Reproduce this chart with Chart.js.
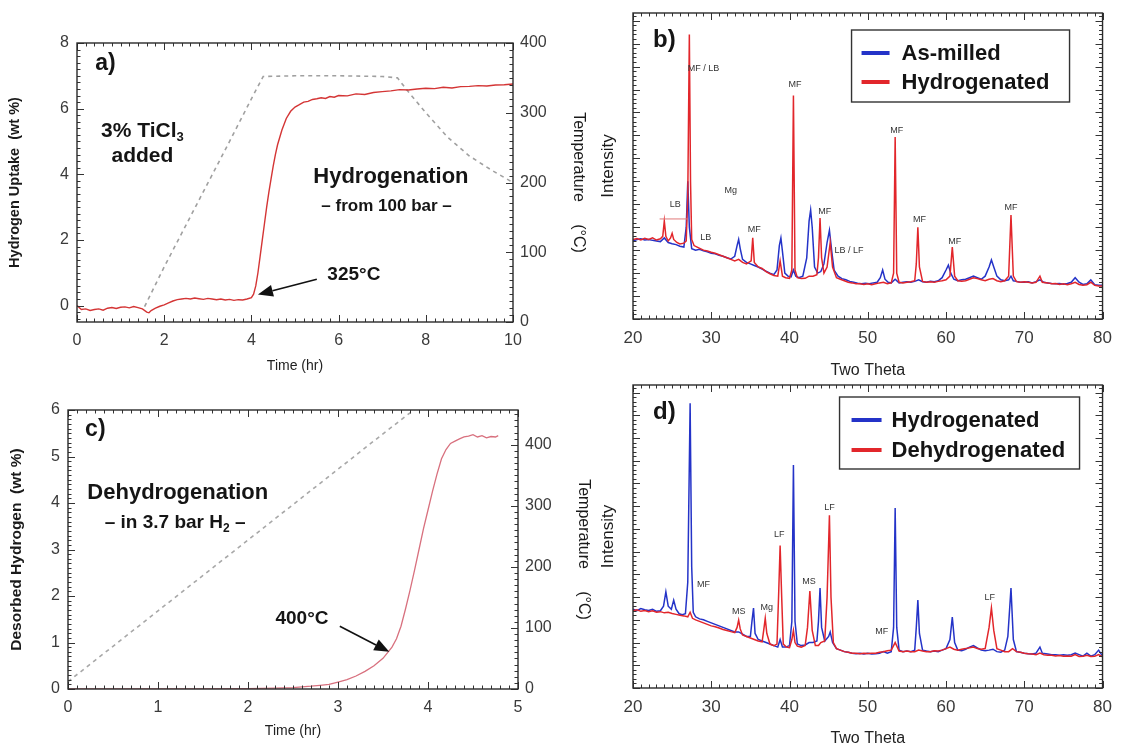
<!DOCTYPE html>
<html><head><meta charset="utf-8">
<script src="https://cdn.jsdelivr.net/npm/chart.js@4.4.1/dist/chart.umd.min.js"></script>
<style>
html,body{margin:0;padding:0;background:#fff;}
#wrap{position:relative;width:1121px;height:749px;overflow:hidden;background:#fff;}
canvas{position:absolute;left:0;top:0;}
</style></head><body>
<div id="wrap">
<canvas id="ca" width="1121" height="749"></canvas>
<canvas id="cb" width="1121" height="749"></canvas>
<canvas id="cc" width="1121" height="749"></canvas>
<canvas id="cd" width="1121" height="749"></canvas>
</div>
<script>
// ---------------- DATA ----------------
const aTimeTicks = [0, 2, 4, 6, 8, 10];
const aUptakeTicks = [0, 2, 4, 6, 8];
const aTempTicks = [0, 100, 200, 300, 400];
const aUptake = [[0,0.0],[0.1,-0.12],[0.2,-0.1],[0.3,-0.15],[0.4,-0.12],[0.5,-0.1],[0.6,-0.14],[0.7,-0.08],[0.8,-0.06],[0.9,-0.09],[1.0,-0.05],[1.1,-0.04],[1.2,-0.07],[1.3,-0.03],[1.4,-0.06],[1.5,-0.1],[1.6,-0.2],[1.65,-0.22],[1.7,-0.15],[1.8,-0.08],[1.9,-0.02],[2.0,0.02],[2.1,0.08],[2.2,0.14],[2.3,0.18],[2.4,0.2],[2.5,0.22],[2.6,0.2],[2.7,0.23],[2.8,0.21],[2.9,0.19],[3.0,0.22],[3.1,0.2],[3.2,0.18],[3.3,0.2],[3.4,0.17],[3.5,0.19],[3.6,0.16],[3.7,0.18],[3.8,0.17],[3.9,0.2],[4.0,0.24],[4.05,0.35],[4.1,0.6],[4.15,1.0],[4.2,1.5],[4.25,2.0],[4.3,2.5],[4.35,3.0],[4.4,3.45],[4.45,3.85],[4.5,4.25],[4.55,4.6],[4.6,4.9],[4.7,5.35],[4.8,5.7],[4.9,5.92],[5.0,6.05],[5.1,6.12],[5.2,6.2],[5.3,6.22],[5.4,6.28],[5.5,6.3],[5.6,6.33],[5.7,6.31],[5.8,6.37],[5.9,6.35],[6.0,6.4],[6.2,6.39],[6.4,6.45],[6.6,6.43],[6.8,6.49],[7.0,6.52],[7.2,6.54],[7.4,6.58],[7.6,6.57],[7.8,6.6],[8.0,6.62],[8.2,6.61],[8.4,6.65],[8.6,6.63],[8.8,6.67],[9.0,6.68],[9.2,6.7],[9.4,6.69],[9.6,6.72],[9.8,6.73],[10,6.75]];
const aTemp = [[1.55,22],[2.0,79],[2.5,139],[3.0,199],[3.5,259],[4.0,320],[4.27,352],[5.0,353],[6.0,353],[7.0,352],[7.35,350],[7.6,330],[8.0,300],[8.5,265],[9.0,238],[9.5,218],[10,200]];

const cTimeTicks = [0, 1, 2, 3, 4, 5];
const cDesorbTicks = [0, 1, 2, 3, 4, 5, 6];
const cTempTicks = [0, 100, 200, 300, 400];
const cDesorbed = [[0,0],[0.5,0],[1,0],[1.5,0],[2,0.01],[2.3,0.02],[2.5,0.03],[2.7,0.06],[2.8,0.08],[2.9,0.1],[3.0,0.15],[3.1,0.2],[3.2,0.28],[3.3,0.38],[3.4,0.5],[3.5,0.66],[3.6,0.9],[3.65,1.08],[3.7,1.35],[3.75,1.72],[3.8,2.12],[3.85,2.55],[3.9,3.0],[3.95,3.45],[4.0,3.85],[4.05,4.25],[4.1,4.62],[4.15,4.95],[4.2,5.15],[4.25,5.28],[4.3,5.33],[4.35,5.38],[4.4,5.42],[4.45,5.44],[4.5,5.47],[4.55,5.42],[4.6,5.45],[4.65,5.4],[4.7,5.43],[4.75,5.42],[4.78,5.45]];
const cTemp = [[0,12],[0.5,70],[1,128],[1.5,186],[2,244],[2.5,302],[3,360],[3.5,418],[3.85,458]];

const xrdTicks = [20, 30, 40, 50, 60, 70, 80];
const bAsMilled = [[20,25.5],[20.5,26],[21,26.2],[21.5,25.8],[22,26],[22.5,25.7],[23,25.5],[23.5,25.3],[24,26.5],[24.5,25],[25,24.6],[25.5,24.3],[26,23.8],[26.5,23.5],[26.8,30],[27.0,45],[27.2,30],[27.5,23],[28,22.5],[28.5,22.8],[29,22.3],[29.5,22],[30,21.5],[30.5,21.3],[31,20.8],[31.5,20.5],[32,20],[32.5,19.6],[33,20.5],[33.3,24],[33.5,26],[33.7,23],[34,19.5],[34.5,18.5],[35,18],[35.5,17.5],[36,17],[36.5,16.3],[37,15.6],[37.5,15],[38,14.5],[38.4,16],[38.7,24],[38.9,26.5],[39.1,22],[39.4,15],[39.8,14],[40.2,13.8],[40.5,16],[40.8,14],[41.2,13.5],[41.7,14],[42.2,20],[42.5,32],[42.7,35.6],[42.9,30],[43.2,17],[43.6,15],[44,15.5],[44.4,18],[44.8,25],[45.1,29],[45.4,22],[45.7,16],[46.2,14],[46.7,13.2],[47.2,12.8],[47.7,12.3],[48.2,12],[48.7,11.7],[49.2,11.5],[49.7,11.7],[50.2,11.5],[50.7,11.8],[51.2,12],[51.6,13.5],[51.9,16],[52.2,13],[52.6,12],[53,11.8],[53.5,13],[54,11.8],[54.5,12],[55,12.2],[55.5,12],[56,12.3],[56.5,12.8],[57,12.2],[57.5,12],[58,12.3],[58.5,12.2],[59,12.5],[59.5,13.5],[60,16],[60.3,17.6],[60.6,15],[61,13],[61.5,12.5],[62,12.8],[62.5,13],[63,13.5],[63.5,14],[64,13.5],[64.5,13],[65,14],[65.5,17],[65.8,19.3],[66.1,17],[66.5,14],[67,12.8],[67.5,12.5],[68,12.8],[68.3,14],[68.6,12.5],[69,12.3],[69.5,12],[70,12],[70.5,12.2],[71,11.8],[71.5,12.2],[72,12.8],[72.5,12],[73,11.8],[73.5,11.6],[74,11.5],[74.5,11.6],[75,11.4],[75.5,11.6],[76,12],[76.5,13.5],[77,12],[77.5,11.3],[78,11.5],[78.5,12.8],[79,11.2],[79.5,11],[80,11]];
const bHydrogenated = [[20,26],[20.5,26.3],[21,25.8],[21.5,26.4],[22,26],[22.5,26.5],[23,25.8],[23.5,26.2],[23.8,27],[24.0,32],[24.2,27],[24.5,25.5],[24.8,26.5],[25.0,28],[25.2,26],[25.6,25],[26,24.5],[26.5,24.8],[26.8,25.5],[27.0,40],[27.2,93],[27.35,45],[27.5,26],[27.8,24],[28.2,23.5],[28.6,23],[29,22.5],[29.5,22.2],[30,21.8],[30.5,21.5],[31,21],[31.5,20.5],[32,20],[32.5,19.5],[33,19],[33.5,19.5],[34,18.5],[34.5,18],[35.1,19],[35.3,26.5],[35.5,18.5],[36,17],[36.5,16.5],[37,15.5],[37.5,14.8],[38,14.2],[38.5,14],[38.8,19],[39.1,14],[39.5,13.5],[40,13.3],[40.3,16],[40.5,73],[40.7,16],[41,13.5],[41.5,13.2],[42,13.3],[42.5,14],[43,14],[43.5,14.5],[43.7,20],[43.9,33],[44.1,20],[44.4,15],[44.8,17],[45.2,25],[45.5,17],[46,13.5],[46.5,13],[47,12.5],[47.5,12],[48,11.8],[48.5,11.5],[49,11.5],[49.5,11.3],[50,11.5],[50.5,11.2],[51,11.5],[51.5,11.8],[52,12],[52.5,11.5],[53,11.8],[53.3,15],[53.5,59.5],[53.7,15],[54,12],[54.5,11.8],[55,12],[55.5,12.2],[56,12.5],[56.2,18],[56.4,30],[56.6,17],[57,12.3],[57.5,12],[58,12.2],[58.5,12],[59,12.3],[59.5,12.5],[60,12.8],[60.5,14],[60.8,23.5],[61.1,14],[61.5,12.5],[62,12.3],[62.5,12.5],[63,13],[63.5,13.5],[64,13.2],[64.5,12.8],[65,12.5],[65.5,13],[66,13.2],[66.5,12.5],[67,12.2],[67.5,12.5],[68,14],[68.3,34],[68.6,14],[69,12.2],[69.5,12],[70,12.2],[70.5,12],[71,11.8],[71.5,12],[72,14],[72.3,12],[73,11.8],[73.5,11.5],[74,11.6],[74.5,11.3],[75,11.5],[75.5,11.2],[76,11.5],[76.5,12],[77,11.3],[77.5,11],[78,11.2],[78.5,12],[79,11],[79.5,10.8],[80,10.8]];
const dHydrogenated = [[20,26],[20.5,25.5],[21,26.2],[21.5,25.8],[22,25.6],[22.5,26],[23,25.3],[23.5,25.5],[23.9,27],[24.2,31.7],[24.5,27],[24.9,26],[25.2,29],[25.5,26],[25.9,24.5],[26.3,24.2],[26.7,24.5],[27.0,35],[27.3,94],[27.5,40],[27.7,25],[28,23.5],[28.5,22.8],[29,22.5],[29.5,22],[30,21.5],[30.5,21],[31,20.5],[31.5,20],[32,19.5],[32.5,19],[33,18.5],[33.5,18.5],[34,17.8],[34.5,17],[35,17],[35.2,22],[35.4,26.4],[35.6,18],[36,16],[36.5,15.5],[37,15],[37.5,14.5],[38,14],[38.5,13.5],[38.8,16],[39.1,13.5],[39.5,13.5],[40,14],[40.3,22],[40.5,73.6],[40.7,22],[41,14.5],[41.5,14],[42,14.2],[42.5,15],[43,15],[43.5,15.5],[43.7,22],[43.9,33],[44.1,20],[44.5,15.5],[45,17],[45.2,18.5],[45.5,15],[46,13],[46.5,12.5],[47,12],[47.5,11.8],[48,11.5],[48.5,11.3],[49,11.5],[49.5,11.2],[50,11.5],[50.5,11.2],[51,11.3],[51.5,11.5],[52,12],[52.5,11.5],[53,12],[53.3,20],[53.5,59.4],[53.7,20],[54,12.5],[54.5,12],[55,12.2],[55.5,12],[56,12.5],[56.2,20],[56.4,29],[56.6,18],[57,12.5],[57.5,12.2],[58,12],[58.5,12.2],[59,12],[59.5,12.5],[60,13],[60.5,16],[60.8,23.4],[61.1,15],[61.5,12.5],[62,12.3],[62.5,12.8],[63,13.5],[63.5,14],[64,13.2],[64.5,12.5],[65,12.3],[65.5,12.5],[66,12.8],[66.5,12],[67,11.8],[67.5,12.5],[67.9,17],[68.3,33],[68.6,16],[69,12],[69.5,11.8],[70,11.5],[70.5,11.3],[71,11.2],[71.5,11.5],[72,13.5],[72.3,11.5],[73,11.2],[73.5,11],[74,11],[74.5,10.8],[75,11],[75.5,10.8],[76,11],[76.5,11.5],[77,11],[77.5,10.5],[78,11.5],[78.5,10.5],[79,11],[79.5,12.5],[80,10.5]];
const dDehydrogenated = [[20,25.5],[20.5,25.8],[21,25.3],[21.5,25.6],[22,25.2],[22.5,25.5],[23,25],[23.5,25.2],[24,24.8],[24.5,25],[25,24.6],[25.5,24.3],[26,24],[26.5,23.8],[27,23.5],[27.3,25],[27.6,23],[28,22.5],[28.5,22],[29,21.5],[29.5,21],[30,20.5],[30.5,20.2],[31,19.8],[31.5,19.3],[32,19],[32.5,18.6],[33,18.3],[33.3,20],[33.5,22.4],[33.7,19.5],[34,17.5],[34.5,17],[35,16.5],[35.5,16],[36,15.5],[36.5,15.2],[36.7,19],[36.9,23],[37.1,18],[37.5,14.5],[38,14],[38.4,14.5],[38.6,30],[38.8,47],[39,30],[39.2,14.5],[39.6,13.5],[40,13.3],[40.3,16],[40.5,19],[40.7,15],[41,13.8],[41.5,13.5],[42,14],[42.3,20],[42.6,32],[42.9,19],[43.3,14],[43.7,14],[44,15],[44.5,15.5],[44.8,30],[45.1,57],[45.3,30],[45.6,15],[46,13],[46.5,12.5],[47,12],[47.5,11.8],[48,11.5],[48.5,11.5],[49,11.3],[49.5,11.5],[50,11.4],[50.5,11.5],[51,11.5],[51.5,11.8],[52,12],[52.5,12.3],[53,12.5],[53.5,15],[54,12.2],[54.5,12],[55,12.2],[55.5,12],[56,12],[56.5,12.5],[57,12.2],[57.5,12],[58,12],[58.5,12.3],[59,12.2],[59.5,12.5],[60,13],[60.5,13.5],[61,12.8],[61.5,12.5],[62,12.8],[62.5,13],[63,13.3],[63.5,13.5],[64,13],[64.5,12.8],[65,13],[65.5,20],[65.8,26.4],[66.1,19],[66.5,13],[67,12.5],[67.5,12],[68,12],[68.5,13],[69,12],[69.5,11.8],[70,11.5],[70.5,11.3],[71,11.2],[71.5,11],[72,11.5],[72.5,11],[73,10.8],[73.5,10.8],[74,10.6],[74.5,10.7],[75,10.5],[75.5,10.6],[76,10.5],[76.5,11],[77,10.4],[77.5,10.5],[78,10.8],[78.5,10.4],[79,10.5],[79.5,11],[80,10.3]];

const bPeakLabels = [[29.0,81.7,'MF / LB'],[40.7,76.5,'MF'],[53.7,61.6,'MF'],[32.5,42,'Mg'],[25.4,37.3,'LB'],[29.3,26.5,'LB'],[35.5,29.4,'MF'],[44.5,35,'MF'],[47.6,22.5,'LB / LF'],[56.6,32.4,'MF'],[61.1,25.2,'MF'],[68.3,36.3,'MF']];
const dPeakLabels = [[29.0,34.3,'MF'],[33.5,25.1,'MS'],[37.1,26.4,'Mg'],[38.7,50.5,'LF'],[42.5,35,'MS'],[45.1,59.6,'LF'],[51.8,18.5,'MF'],[65.6,29.7,'LF']];

// ---------------- RENDERING ----------------
const FONT = '"Liberation Sans", Arial, Helvetica, sans-serif';
const pts = arr => arr.map(p => ({x: p[0], y: p[1]}));

const framePlugin = {
  id: 'frame',
  afterDatasetsDraw(chart, args, o) {
    const {ctx, chartArea: a} = chart;
    ctx.save();
    ctx.strokeStyle = '#333';
    ctx.lineWidth = 1;
    const line = (x1, y1, x2, y2) => { ctx.beginPath(); ctx.moveTo(x1, y1); ctx.lineTo(x2, y2); ctx.stroke(); };
    const run = (spec, side) => {
      if (!spec) return;
      const sc = chart.scales[spec.scale];
      const n0 = Math.ceil((sc.min - 1e-9) / spec.minor), n1 = Math.floor((sc.max + 1e-9) / spec.minor);
      for (let n = n0; n <= n1; n++) {
        const v = n * spec.minor;
        const r = v / spec.major;
        const isMaj = Math.abs(r - Math.round(r)) < 1e-6;
        const L = isMaj ? 7 : 3.5;
        const p = Math.round(sc.getPixelForValue(v)) + 0.5;
        if (side === 'bottom') line(p, a.bottom, p, a.bottom - L);
        if (side === 'top') line(p, a.top, p, a.top + L);
        if (side === 'left') line(a.left, p, a.left + L, p);
        if (side === 'right') line(a.right, p, a.right - L, p);
      }
    };
    run(o.bottom, 'bottom'); run(o.top, 'top'); run(o.left, 'left'); run(o.right, 'right');
    ctx.lineWidth = 1.4;
    ctx.strokeStyle = '#2a2a2a';
    ctx.strokeRect(a.left, a.top, a.right - a.left, a.bottom - a.top);
    ctx.restore();
  }
};

const annotPlugin = {
  id: 'annot',
  afterDatasetsDraw(chart, args, o) {
    const ctx = chart.ctx;
    (o.items || []).forEach(it => {
      const xs = chart.scales.x, ys = chart.scales.y;
      ctx.save();
      if (it.type === 'arrow' || it.type === 'line') {
        const x1 = xs.getPixelForValue(it.x1), y1 = ys.getPixelForValue(it.y1);
        const x2 = xs.getPixelForValue(it.x2), y2 = ys.getPixelForValue(it.y2);
        ctx.strokeStyle = ctx.fillStyle = it.color || '#111';
        ctx.lineWidth = it.lw || 1.6;
        if (it.type === 'line') { ctx.beginPath(); ctx.moveTo(x1, y1); ctx.lineTo(x2, y2); ctx.stroke(); ctx.restore(); return; }
        const ang = Math.atan2(y2 - y1, x2 - x1);
        const hl = 15, hw = 6;
        const bx = x2 - hl * Math.cos(ang), by = y2 - hl * Math.sin(ang);
        ctx.beginPath(); ctx.moveTo(x1, y1); ctx.lineTo(bx, by); ctx.stroke();
        ctx.beginPath(); ctx.moveTo(x2, y2);
        ctx.lineTo(bx + hw * Math.sin(ang), by - hw * Math.cos(ang));
        ctx.lineTo(bx - hw * Math.sin(ang), by + hw * Math.cos(ang));
        ctx.closePath(); ctx.fill();
      } else {
        const parts = it.parts || [{t: it.text}];
        const size = it.size || 14, weight = it.weight || 'bold';
        const subSize = Math.round(size * 0.62);
        ctx.textBaseline = 'middle';
        ctx.textAlign = 'left';
        const widths = parts.map(p => { ctx.font = `${weight} ${p.sub ? subSize : size}px ${FONT}`; return ctx.measureText(p.t).width; });
        const total = widths.reduce((s, w) => s + w, 0);
        let x = xs.getPixelForValue(it.x);
        const y = ys.getPixelForValue(it.y);
        if (it.align === 'center') x -= total / 2; else if (it.align === 'right') x -= total;
        ctx.fillStyle = it.color || '#151515';
        parts.forEach((p, i) => {
          ctx.font = `${weight} ${p.sub ? subSize : size}px ${FONT}`;
          ctx.fillText(p.t, x, p.sub ? y + size * 0.32 : y);
          x += widths[i];
        });
      }
      ctx.restore();
    });
  }
};

const boxLegendPlugin = {
  id: 'boxLegend',
  afterDraw(chart, args, o) {
    if (!o.rows) return;
    const {ctx, chartArea: a} = chart;
    const x0 = a.right - o.right - o.width, y0 = a.top + o.top;
    ctx.save();
    ctx.fillStyle = '#fff';
    ctx.fillRect(x0, y0, o.width, o.height);
    ctx.strokeStyle = '#333'; ctx.lineWidth = 1.4;
    ctx.strokeRect(x0, y0, o.width, o.height);
    o.rows.forEach((di, i) => {
      const ds = chart.data.datasets[di];
      const cy = y0 + o.rowTop + i * o.rowGap;
      ctx.strokeStyle = ds.borderColor; ctx.lineWidth = 4;
      ctx.beginPath(); ctx.moveTo(x0 + o.lineX, cy); ctx.lineTo(x0 + o.lineX + o.lineLen, cy); ctx.stroke();
      ctx.fillStyle = '#141414'; ctx.font = `bold ${o.size}px ${FONT}`; ctx.textBaseline = 'middle'; ctx.textAlign = 'left';
      ctx.fillText(ds.label, x0 + o.textX, cy + 1);
    });
    ctx.restore();
  }
};

Chart.register(framePlugin, annotPlugin, boxLegendPlugin);

function xAxis(tickArr, min, max, title, height, tickSize, tickPad, titleSize) {
  return {
    type: 'linear', position: 'bottom', min, max,
    afterBuildTicks: s => { s.ticks = tickArr.map(v => ({value: v})); },
    afterFit: s => { s.height = height; },
    ticks: {autoSkip: false, maxRotation: 0, padding: tickPad, color: '#3a3a3a', font: {family: FONT, size: tickSize}},
    grid: {display: false, drawTicks: false}, border: {display: false},
    title: {display: true, text: title, color: '#222', font: {family: FONT, size: titleSize}, padding: {top: 0, bottom: 0}}
  };
}
function yAxis(pos, tickArr, min, max, title, width, tickSize, tickPad, titleSize, titleBold, titlePad) {
  return {
    type: 'linear', position: pos, min, max,
    afterBuildTicks: s => { s.ticks = (tickArr || []).map(v => ({value: v})); },
    afterFit: s => { s.width = width; },
    ticks: {display: !!tickArr, autoSkip: false, padding: tickPad, color: '#3a3a3a', font: {family: FONT, size: tickSize}},
    grid: {display: false, drawTicks: false}, border: {display: false},
    title: {display: true, text: title, color: '#1a1a1a', font: {family: FONT, size: titleSize, weight: titleBold ? 'bold' : 'normal'}, padding: {top: titlePad, bottom: 0}}
  };
}
const baseOpts = {responsive: false, animation: false, devicePixelRatio: 1, events: []};

// ---- Panel a ----
new Chart(document.getElementById('ca'), {
  type: 'line',
  data: {datasets: [
    {label: 'Hydrogen Uptake', data: pts(aUptake), yAxisID: 'y', borderColor: '#d43535', borderWidth: 1.4, pointRadius: 0, order: 1},
    {label: 'Temperature', data: pts(aTemp), yAxisID: 'y2', borderColor: '#a0a0a0', borderWidth: 1.6, borderDash: [4, 4], pointRadius: 0, order: 2}
  ]},
  options: Object.assign({}, baseOpts, {
    layout: {padding: {left: 0, top: 43, right: 531, bottom: 374}},
    plugins: {
      legend: {display: false}, tooltip: {enabled: false},
      frame: {bottom: {scale: 'x', major: 2, minor: 0.2}, top: {scale: 'x', major: 2, minor: 0.2}, left: {scale: 'y', major: 2, minor: 0.2}, right: {scale: 'y2', major: 100, minor: 10}},
      annot: {items: [
        {x: 0.42, y: 7.37, text: 'a)', size: 23, align: 'left'},
        {x: 1.5, y: 5.32, parts: [{t: '3% TiCl'}, {t: '3', sub: true}], size: 21, align: 'center'},
        {x: 1.5, y: 4.56, text: 'added', size: 21, align: 'center'},
        {x: 7.2, y: 3.91, text: 'Hydrogenation', size: 22, align: 'center'},
        {x: 7.1, y: 3.03, text: '– from 100 bar –', size: 17, align: 'center'},
        {x: 6.35, y: 0.95, text: '325°C', size: 19, align: 'center'},
        {type: 'arrow', x1: 5.5, y1: 0.8, x2: 4.15, y2: 0.34}
      ]}
    },
    scales: {
      x: xAxis(aTimeTicks, 0, 10, 'Time (hr)', 53, 16, 9, 14),
      y: yAxis('left', aUptakeTicks, -0.5, 8, 'Hydrogen Uptake  (wt %)', 77, 16, 8, 14.5, true, 6),
      y2: yAxis('right', aTempTicks, 0, 400, 'Temperature     (°C)', 77, 16, 7, 16, false, 2)
    }
  })
});

// ---- Panel c ----
new Chart(document.getElementById('cc'), {
  type: 'line',
  data: {datasets: [
    {label: 'Desorbed Hydrogen', data: pts(cDesorbed), yAxisID: 'y', borderColor: '#d8707e', borderWidth: 1.3, pointRadius: 0, order: 1},
    {label: 'Temperature', data: pts(cTemp), yAxisID: 'y2', borderColor: '#a8a8a8', borderWidth: 1.6, borderDash: [4, 4], pointRadius: 0, order: 2}
  ]},
  options: Object.assign({}, baseOpts, {
    layout: {padding: {left: 0, top: 410, right: 526, bottom: 9}},
    plugins: {
      legend: {display: false}, tooltip: {enabled: false},
      frame: {bottom: {scale: 'x', major: 1, minor: 0.1}, top: {scale: 'x', major: 1, minor: 0.1}, left: {scale: 'y', major: 1, minor: 0.1}, right: {scale: 'y2', major: 100, minor: 10}},
      annot: {items: [
        {x: 0.19, y: 5.57, text: 'c)', size: 23, align: 'left'},
        {x: 1.22, y: 4.21, text: 'Dehydrogenation', size: 22, align: 'center'},
        {x: 1.19, y: 3.57, parts: [{t: '– in 3.7 bar H'}, {t: '2', sub: true}, {t: ' –'}], size: 19, align: 'center'},
        {x: 2.6, y: 1.5, text: '400°C', size: 19, align: 'center'},
        {type: 'arrow', x1: 3.02, y1: 1.35, x2: 3.57, y2: 0.8}
      ]}
    },
    scales: {
      x: xAxis(cTimeTicks, 0, 5, 'Time (hr)', 51, 16, 9, 14),
      y: yAxis('left', cDesorbTicks, 0, 6, 'Desorbed Hydrogen  (wt %)', 68, 16, 8, 15.5, true, 7),
      y2: yAxis('right', cTempTicks, 0, 457, 'Temperature     (°C)', 77, 16, 7, 16, false, 2)
    }
  })
});

// ---- XRD helper ----
function xrdChart(id, top, bottom, bottomAxisH, dsA, dsB, letter, labels, extra, legend) {
  const items = [{x: 24.0, y: 91, text: letter, size: 24, align: 'center'}]
    .concat(labels.map(l => ({x: l[0], y: l[1], text: l[2], size: 9, weight: 'normal', align: 'center', color: '#333'})))
    .concat(extra);
  return new Chart(document.getElementById(id), {
    type: 'line',
    data: {datasets: [dsA, dsB]},
    options: Object.assign({}, baseOpts, {
      layout: {padding: {left: 590, top: top, right: 18, bottom: bottom}},
      plugins: {
        legend: {display: false}, tooltip: {enabled: false},
        frame: {bottom: {scale: 'x', major: 10, minor: 1}, top: {scale: 'x', major: 10, minor: 1}, left: {scale: 'y', major: 7.5, minor: 1.5}, right: {scale: 'y', major: 7.5, minor: 1.5}},
        annot: {items},
        boxLegend: legend
      },
      scales: {
        x: xAxis(xrdTicks, 20, 80, 'Two Theta', bottomAxisH, 17, 9, 16),
        y: yAxis('left', null, 0, 100, 'Intensity', 43, 10, 0, 17, false, 8)
      }
    })
  });
}

xrdChart('cb', 13, 369, 61,
  {label: 'As-milled', data: pts(bAsMilled), borderColor: '#2433c8', borderWidth: 1.5, pointRadius: 0, order: 2},
  {label: 'Hydrogenated', data: pts(bHydrogenated), borderColor: '#e2262b', borderWidth: 1.5, pointRadius: 0, order: 1},
  'b)', bPeakLabels,
  [{type: 'line', x1: 23.4, y1: 32.7, x2: 27.0, y2: 32.7, color: '#e07a7a', lw: 1}],
  {rows: [0, 1], right: 33, top: 17, width: 218, height: 72, rowTop: 23, rowGap: 29, lineX: 10, lineLen: 28, textX: 50, size: 22});

xrdChart('cd', 385, 1, 60,
  {label: 'Hydrogenated', data: pts(dHydrogenated), borderColor: '#2433c8', borderWidth: 1.5, pointRadius: 0, order: 2},
  {label: 'Dehydrogenated', data: pts(dDehydrogenated), borderColor: '#e2262b', borderWidth: 1.5, pointRadius: 0, order: 1},
  'd)', dPeakLabels, [],
  {rows: [0, 1], right: 23, top: 12, width: 240, height: 72, rowTop: 23, rowGap: 30, lineX: 12, lineLen: 30, textX: 52, size: 22});
</script>
</body></html>
